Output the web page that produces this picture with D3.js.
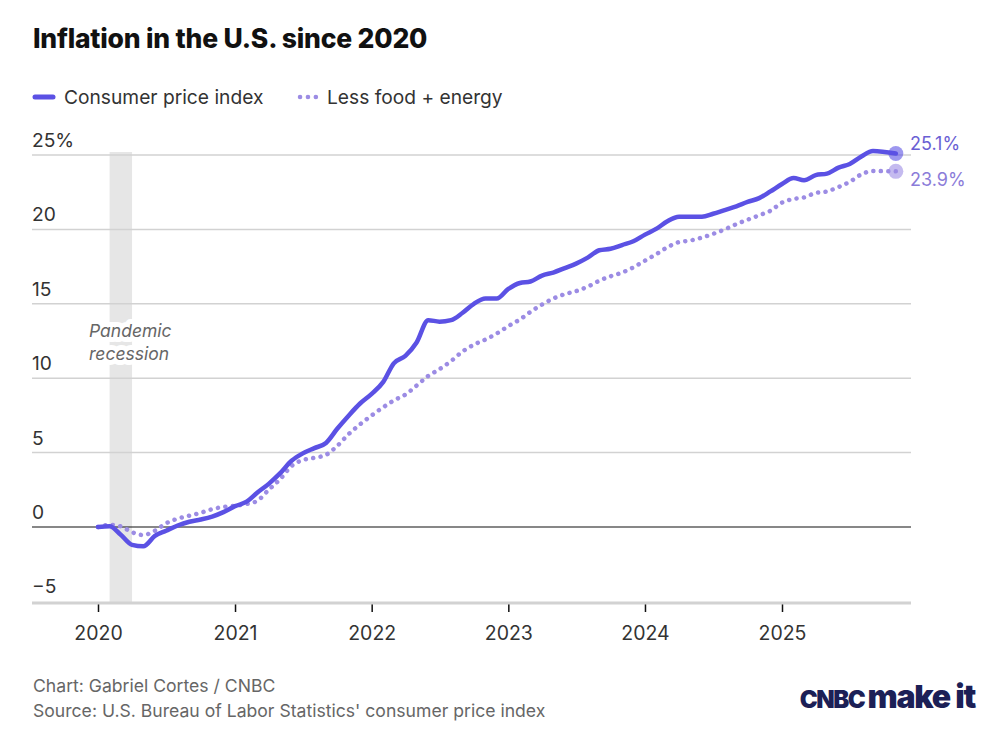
<!DOCTYPE html>
<html>
<head>
<meta charset="utf-8">
<script src="https://cdn.jsdelivr.net/npm/d3@7"></script>
<style>
	body { margin: 0; background: #fff; }
	svg { display: block; font-family: Inter, "Open Sans", sans-serif; }
</style>
</head>
<body>
<div id="chart"></div>
<script>
// cumulative % change since Jan 2020, monthly (Oct 2025 not published)
var cpi = [
	0, 0.05, -0.5, -1.2, -1.3, -0.6, -0.25, 0.1, 0.35, 0.5, 0.7, 1.0,
	1.4, 1.7, 2.3, 2.9, 3.6, 4.45, 4.95, 5.3, 5.65, 6.6, 7.5, 8.3,
	8.95, 9.75, 11.0, 11.5, 12.4, 13.9, 13.8, 13.9, 14.4, 15.0, 15.35, 15.35,
	16.0, 16.4, 16.5, 16.9, 17.1, 17.4, 17.7, 18.1, 18.6, 18.7, 18.95, 19.2,
	19.65, 20.05, 20.55, 20.85, 20.85, 20.85, 21.05, 21.3, 21.55, 21.85, 22.1, 22.55,
	23.05, 23.45, 23.3, 23.65, 23.75, 24.15, 24.4, 24.9, 25.27, 25.1
];
var core = [
	0, 0.15, 0.05, -0.35, -0.54, -0.25, 0.25, 0.56, 0.76, 0.95, 1.2, 1.35,
	1.42, 1.55, 1.75, 2.5, 3.2, 4.1, 4.5, 4.65, 4.85, 5.45, 6.25, 6.9,
	7.5, 8.05, 8.5, 8.9, 9.5, 10.15, 10.6, 11.15, 11.8, 12.25, 12.6, 13.0,
	13.5, 13.95, 14.45, 14.95, 15.35, 15.65, 15.85, 16.15, 16.55, 16.85, 17.1, 17.45,
	17.9, 18.35, 18.8, 19.15, 19.25, 19.45, 19.7, 20.0, 20.35, 20.65, 20.95, 21.25,
	21.8, 22.05, 22.15, 22.45, 22.55, 22.85, 23.2, 23.7, 23.92, 23.9
];
var y_ticks = [-5, 0, 5, 10, 15, 20, 25];
var x_ticks = [2020, 2021, 2022, 2023, 2024, 2025];
var recession = ["2020-02-01", "2020-04-01"];
var end_labels = ["25.1%", "23.9%"];

var months = d3.timeMonth.range(new Date(2020, 0, 1), new Date(2025, 11, 1))
	.filter(function(d) { return !(d.getFullYear() == 2025 && d.getMonth() == 9); });

var W = 1004, H = 749;
var left = 32, right = 911;
var purple = "#5b51e4", lilac = "#9c8ce4";
var body_size = "19.2px";

var svg = d3.select("#chart").append("svg")
	.attr("width", W)
	.attr("height", H);

var x = d3.scaleTime()
	.domain([new Date(2020, 0, 1), new Date(2025, 0, 1)])
	.range([98, 782]);
var y = d3.scaleLinear()
	.domain([0, 25])
	.range([527, 155]);

// title + legend
svg.append("text")
	.attr("x", 33).attr("y", 48)
	.style("font-size", "26.5px").style("font-weight", 800).style("fill", "#111")
	.style("letter-spacing", "-0.2px")
	.text("Inflation in the U.S. since 2020");

svg.append("line")
	.attr("x1", 35).attr("x2", 53).attr("y1", 97).attr("y2", 97)
	.attr("stroke", purple).attr("stroke-width", 5).attr("stroke-linecap", "round");
svg.append("text")
	.attr("x", 64).attr("y", 104)
	.style("font-size", body_size).style("fill", "#333")
	.text("Consumer price index");
svg.append("line")
	.attr("x1", 300).attr("x2", 316).attr("y1", 97).attr("y2", 97)
	.attr("stroke", lilac).attr("stroke-width", 4.5).attr("stroke-linecap", "round")
	.attr("stroke-dasharray", "0.1 7.8");
svg.append("text")
	.attr("x", 327).attr("y", 104)
	.style("font-size", body_size).style("fill", "#333")
	.text("Less food + energy");

// recession band
svg.append("rect")
	.attr("x", x(new Date(recession[0])))
	.attr("y", 152)
	.attr("width", x(new Date(recession[1])) - x(new Date(recession[0])))
	.attr("height", 602 - 152)
	.attr("fill", "#e6e6e6");

// gridlines
var grid = svg.append("g");
y_ticks.filter(function(d) { return d > -5; }).forEach(function(t) {
	grid.append("line")
		.attr("x1", left).attr("x2", right)
		.attr("y1", y(t)).attr("y2", y(t))
		.attr("stroke", t == 0 ? "#111" : "#d2d2d2")
		.attr("stroke-width", t == 0 ? 1.2 : 1.5);
});
y_ticks.forEach(function(t) {
	grid.append("text")
		.attr("x", 32).attr("y", y(t) - 8)
		.style("font-size", body_size).style("fill", "#333")
		.text(t == 25 ? "25%" : (t < 0 ? "\u22125" : t));
});

// x axis
var xa = svg.append("g")
	.attr("transform", "translate(0,604)")
	.call(d3.axisBottom(x)
		.tickValues(x_ticks.map(function(d) { return new Date(d, 0, 1); }))
		.tickFormat(d3.timeFormat("%Y"))
		.tickSize(8)
		.tickPadding(14));
xa.select(".domain").remove();
xa.selectAll(".tick line").attr("stroke", "#111").attr("stroke-width", 1.5);
xa.selectAll(".tick text")
	.style("font-size", "19.5px").style("fill", "#333").style("font-family", "Inter, sans-serif");
svg.append("line")
	.attr("x1", left).attr("x2", right).attr("y1", 603).attr("y2", 603)
	.attr("stroke", "#d2d2d2").attr("stroke-width", 3);

// recession label with white halo
var rl = svg.append("g")
	.style("font-size", "17.5px").style("font-style", "italic")
	.style("fill", "#666");
["Pandemic", "recession"].forEach(function(s, i) {
	rl.append("text")
		.attr("x", 89).attr("y", 337 + i * 23)
		.attr("stroke", "#fff").attr("stroke-width", 10)
		.attr("stroke-linejoin", "round")
		.style("paint-order", "stroke")
		.text(s);
});

// lines
var line = d3.line()
	.x(function(d, i) { return x(months[i]); })
	.y(function(d) { return y(d); })
	.curve(d3.curveMonotoneX);

svg.append("path")
	.datum(core)
	.attr("d", line)
	.attr("fill", "none")
	.attr("stroke", lilac)
	.attr("stroke-width", 4.5)
	.attr("stroke-linecap", "round")
	.attr("stroke-dasharray", "0.1 7.4");

svg.append("path")
	.datum(cpi)
	.attr("d", line)
	.attr("fill", "none")
	.attr("stroke", purple)
	.attr("stroke-width", 4.5)
	.attr("stroke-linejoin", "round")
	.attr("stroke-linecap", "round");

// end points + labels
var last = months.length - 1;
[[cpi, purple, "#6a5fd4"], [core, lilac, "#8b7cd9"]].forEach(function(s, k) {
	svg.append("circle")
		.attr("cx", x(months[last]))
		.attr("cy", y(s[0][last]))
		.attr("r", 7.5)
		.attr("fill", s[1])
		.attr("opacity", 0.6);
	svg.append("text")
		.attr("x", 910)
		.attr("y", y(s[0][last]) + (k == 0 ? -4 : 15))
		.style("font-size", "18px").style("fill", s[2])
		.text(end_labels[k]);
});

// footer
svg.append("text")
	.attr("x", 33).attr("y", 692)
	.style("font-size", "17.6px").style("fill", "#666")
	.text("Chart: Gabriel Cortes / CNBC");
svg.append("text")
	.attr("x", 33).attr("y", 717)
	.style("font-size", "17.6px").style("fill", "#666")
	.text("Source: U.S. Bureau of Labor Statistics' consumer price index");

var logo = svg.append("text")
	.attr("x", 975).attr("y", 708)
	.attr("text-anchor", "end")
	.style("fill", "#1c2056").style("font-weight", 900);
logo.append("tspan").style("font-size", "24px").style("letter-spacing", "-1.5px").text("CNBC ");
logo.append("tspan").style("font-size", "32px").style("letter-spacing", "-1.2px").text("make it");
</script>
</body>
</html>
